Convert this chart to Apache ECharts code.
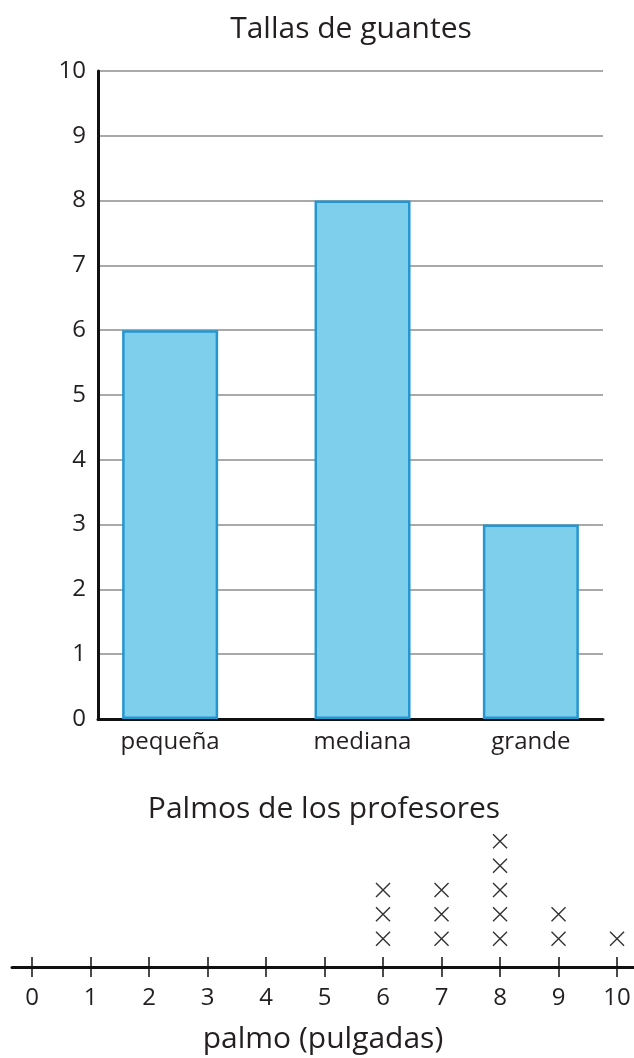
<!DOCTYPE html>
<html>
<head>
<meta charset="utf-8">
<script src="https://cdn.jsdelivr.net/npm/echarts@6/dist/echarts.min.js"></script>
<style>
html, body { margin: 0; padding: 0; background: #fff; }
#main { width: 634px; height: 1058px; }
</style>
</head>
<body>
<div id="main"></div>
<script>
// grafica de barras: tallas de guantes
var tallas = ['pequeña', 'mediana', 'grande'];
var tallasPos = [1.5, 5.5, 9];     // posicion de cada barra en el eje
var tallasCant = [6, 8, 3];
var yTicks = [0, 1, 2, 3, 4, 5, 6, 7, 8, 9, 10];

// diagrama de puntos: palmos
var palmoVals = [6, 7, 8, 9, 10];
var palmoCant = [3, 3, 5, 2, 1];
var palmoTicks = [0, 1, 2, 3, 4, 5, 6, 7, 8, 9, 10];

var font = 'Open Sans';
var txt = '#231f20';

var barData = tallasPos.map(function (p, i) { return [p, tallasCant[i]]; });
var dotData = [];
palmoVals.forEach(function (v, i) {
    for (var k = 1; k <= palmoCant[i]; k++) dotData.push([v, k]);
});

var myChart = echarts.init(document.getElementById('main'));
var option = {
    animation: false,
    title: [
        {
            text: 'Tallas de guantes',
            left: 346, top: 9, textAlign: 'center',
            textStyle: { fontFamily: font, fontSize: 30, fontWeight: 'normal', color: txt }
        },
        {
            text: 'Palmos de los profesores',
            left: 319, top: 789, textAlign: 'center',
            textStyle: { fontFamily: font, fontSize: 30, fontWeight: 'normal', color: txt }
        }
    ],
    grid: [
        { left: 98, right: 31, top: 71, bottom: 339 },
        { left: 12, right: 0, top: 821, bottom: 91 }
    ],
    xAxis: [
        {
            gridIndex: 0,
            type: 'value',
            min: 0, max: 10.5,
            splitLine: { show: false },
            axisTick: { show: false },
            axisLine: { lineStyle: { color: '#111', width: 3 } },
            axisLabel: {
                customValues: tallasPos,
                margin: 11,
                fontFamily: font, fontSize: 24, color: txt,
                formatter: function (v) {
                    var i = tallasPos.indexOf(v);
                    return i >= 0 ? tallas[i] : '';
                }
            }
        },
        {
            gridIndex: 1,
            type: 'value',
            position: 'bottom',
            min: -0.342, max: 10.29,
            splitLine: { show: false },
            axisLine: { lineStyle: { color: '#111', width: 3 } },
            axisTick: { customValues: palmoTicks, length: 10, lineStyle: { color: '#111', width: 1.5 } },
            axisLabel: {
                customValues: palmoTicks,
                margin: 19,
                fontFamily: font, fontSize: 24, color: txt
            },
            name: 'palmo (pulgadas)',
            nameLocation: 'middle',
            nameGap: 57,
            nameTextStyle: { fontFamily: font, fontSize: 30, color: txt }
        },
        {
            gridIndex: 1,
            type: 'value',
            position: 'bottom',
            min: -0.342, max: 10.29,
            splitLine: { show: false },
            axisLine: { show: false },
            axisTick: { inside: true, customValues: palmoTicks, length: 10, lineStyle: { color: '#111', width: 1.5 } },
            axisLabel: { show: false }
        }
    ],
    yAxis: [
        {
            gridIndex: 0,
            type: 'value',
            min: 0, max: 10, interval: 1,
            axisLine: { show: true, lineStyle: { color: '#111', width: 3 } },
            axisTick: { show: false },
            axisLabel: { margin: 12, fontFamily: font, fontSize: 24, color: txt },
            splitLine: { show: true, lineStyle: { color: '#8c8c8c', width: 1.5 } }
        },
        {
            gridIndex: 1,
            type: 'value',
            min: 0, max: 6,
            show: false
        }
    ],
    series: [
        {
            type: 'bar',
            xAxisIndex: 0, yAxisIndex: 0,
            barWidth: 96,
            data: barData,
            itemStyle: { color: '#7ecfeb', borderColor: '#2596d0', borderWidth: 2.5 }
        },
        {
            type: 'scatter',
            xAxisIndex: 1, yAxisIndex: 1,
            symbol: 'path://M0,0L10,10M10,0L0,10',
            symbolSize: 14,
            symbolOffset: [0, -4],
            data: dotData,
            itemStyle: { color: 'none', borderColor: '#333', borderWidth: 1.4, opacity: 1 }
        }
    ]
};
myChart.setOption(option);
</script>
</body>
</html>
